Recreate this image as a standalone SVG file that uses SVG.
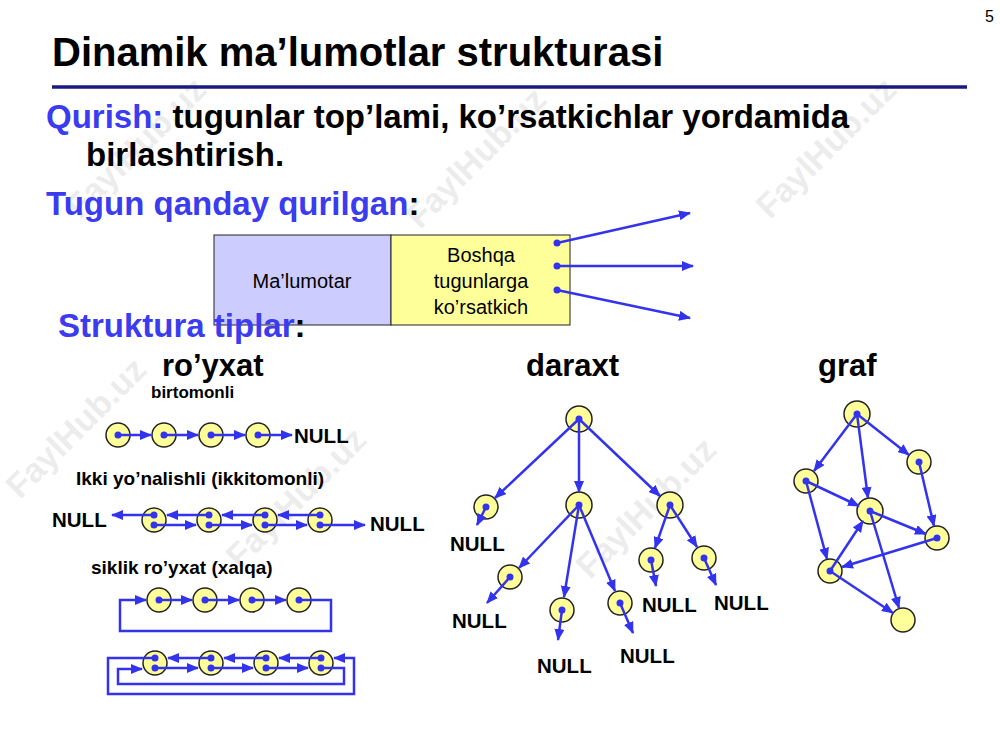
<svg xmlns="http://www.w3.org/2000/svg" width="1000" height="750" viewBox="0 0 1000 750">
<style>
text{font-family:"Liberation Sans",Arial,sans-serif;font-weight:bold}
.b{fill:#3b3bf0}.n{font-size:20.5px}.s{font-size:19px}.h{font-size:31px}.t{font-size:33px}
.nd{fill:#ffff99;stroke:#222;stroke-width:1.5}
.dt{fill:#3333ee}
.e{stroke:#3333ee;stroke-width:2.5;fill:none;marker-end:url(#a)}
.wm{font-size:34px;fill:#000;opacity:0.07}
</style>
<defs>
<marker id="a" markerUnits="userSpaceOnUse" markerWidth="12" markerHeight="10" refX="11" refY="5" orient="auto"><path d="M0,0L12,5L0,10z" fill="#3333ee"/></marker>
</defs>
<rect width="1000" height="750" fill="#fff"/>
<g id="watermarks">
<text class="wm" transform="translate(80,220) rotate(-45)">FaylHub.uz</text>
<text class="wm" transform="translate(420,230) rotate(-45)">FaylHub.uz</text>
<text class="wm" transform="translate(770,220) rotate(-45)">FaylHub.uz</text>
<text class="wm" transform="translate(20,500) rotate(-45)">FaylHub.uz</text>
<text class="wm" transform="translate(240,570) rotate(-45)">FaylHub.uz</text>
<text class="wm" transform="translate(590,580) rotate(-45)">FaylHub.uz</text>
</g>
<g id="header">
<text x="985" y="22" style="font-weight:normal;font-size:16px">5</text>
<text x="52" y="66" style="font-size:40px">Dinamik ma’lumotlar strukturasi</text>
<line x1="52" y1="87" x2="967" y2="87" stroke="#1a1a80" stroke-width="3.5"/>
<text x="46" y="128" class="t"><tspan class="b">Qurish:</tspan> tugunlar top’lami, ko’rsatkichlar yordamida</text>
<text x="86" y="166" class="t">birlashtirish.</text>
<text x="46" y="215" class="t"><tspan class="b">Tugun qanday qurilgan</tspan>:</text>
<text x="162" y="376" class="h">ro’yxat</text>
<text x="526" y="376" class="h">daraxt</text>
<text x="818" y="376" class="h">graf</text>
</g>
<g id="node-struct">
<rect x="214" y="235" width="177" height="90" fill="#ccccff" stroke="#222"/>
<rect x="391" y="235" width="179" height="90" fill="#ffff99" stroke="#222"/>
<g style="font-size:20px" text-anchor="middle">
<text x="302" y="288" style="font-weight:normal">Ma’lumotar</text>
<text x="481" y="262" style="font-weight:normal">Boshqa</text>
<text x="481" y="288" style="font-weight:normal">tugunlarga</text>
<text x="481" y="314" style="font-weight:normal">ko’rsatkich</text>
</g>
<circle class="dt" cx="557" cy="243" r="3.5"/><circle class="dt" cx="557" cy="266" r="3.5"/><circle class="dt" cx="557" cy="290" r="3.5"/>
</g>
<text x="58" y="337" class="t"><tspan class="b">Struktura tiplar</tspan>:</text>
<g id="lists">
<text x="151" y="398" class="s" style="font-size:17px">birtomonli</text>
<text x="76" y="485" class="s">Ikki yo’nalishli (ikkitomonli)</text>
<text x="91" y="574" class="s">siklik ro’yxat (xalqa)</text>
<text x="294" y="443" class="n">NULL</text>
<text x="52" y="527" class="n">NULL</text>
<text x="370" y="531" class="n">NULL</text>
<circle class="nd" cx="118" cy="435" r="12"/><circle class="nd" cx="164" cy="435" r="12"/><circle class="nd" cx="211" cy="435" r="12"/><circle class="nd" cx="258" cy="435" r="12"/>
<circle class="nd" cx="154" cy="520" r="12"/><circle class="nd" cx="209" cy="520" r="12"/><circle class="nd" cx="265" cy="520" r="12"/><circle class="nd" cx="320" cy="520" r="12"/>
<circle class="nd" cx="159" cy="600" r="12"/><circle class="nd" cx="205" cy="600" r="12"/><circle class="nd" cx="252" cy="600" r="12"/><circle class="nd" cx="299" cy="600" r="12"/>
<circle class="nd" cx="155" cy="663" r="12"/><circle class="nd" cx="211" cy="663" r="12"/><circle class="nd" cx="266" cy="663" r="12"/><circle class="nd" cx="321" cy="663" r="12"/>
</g>
<g id="tree">
<circle class="nd" cx="579" cy="419" r="13"/>
<circle class="nd" cx="486" cy="507" r="12"/><circle class="nd" cx="579" cy="505" r="13"/><circle class="nd" cx="670" cy="505" r="13"/>
<circle class="nd" cx="510" cy="577" r="12"/><circle class="nd" cx="562" cy="610" r="12"/><circle class="nd" cx="620" cy="603" r="12"/>
<circle class="nd" cx="651" cy="560" r="12"/><circle class="nd" cx="704" cy="558" r="12"/>
<text x="450" y="551" class="n">NULL</text><text x="452" y="628" class="n">NULL</text><text x="537" y="673" class="n">NULL</text>
<text x="620" y="663" class="n">NULL</text><text x="642" y="612" class="n">NULL</text><text x="714" y="610" class="n">NULL</text>
</g>
<g id="graph">
<circle class="nd" cx="857" cy="414" r="13"/><circle class="nd" cx="919" cy="462" r="12"/><circle class="nd" cx="806" cy="481" r="12"/>
<circle class="nd" cx="870" cy="511" r="13"/><circle class="nd" cx="937" cy="538" r="12"/><circle class="nd" cx="830" cy="571" r="12"/><circle class="nd" cx="903" cy="620" r="12"/>
</g>
<g id="connectors" class="e">
<path d="M557,243L690,213"/><path d="M557,266L693,266"/><path d="M557,290L690,318"/>
<path d="M118,435H151"/><path d="M164,435H198"/><path d="M211,435H245"/><path d="M258,435H292"/>
<path d="M154,515H112"/><path d="M209,515H167"/><path d="M265,515H222"/><path d="M320,515H278"/>
<path d="M154,525H196"/><path d="M209,525H252"/><path d="M265,525H307"/><path d="M320,525H365"/>
<path d="M159,600H192"/><path d="M205,600H239"/><path d="M252,600H286"/>
<path d="M299,600H331V631H120V600H146"/>
<path d="M211,658H168"/><path d="M266,658H224"/><path d="M321,658H279"/>
<path d="M155,668H198"/><path d="M211,668H253"/><path d="M266,668H308"/>
<path d="M155,658H108V694H354V658H334"/>
<path d="M321,668H344V684H118V669H142"/>
<path d="M579,419L495,498"/><path d="M579,419V492"/><path d="M579,419L660,496"/><path d="M486,507L477,525"/>
<path d="M579,505L519,568"/><path d="M579,505L564,597"/><path d="M579,505L615,591"/><path d="M670,505L655,548"/><path d="M670,505L697,547"/>
<path d="M510,577L487,603"/><path d="M562,610L558,640"/><path d="M620,603L633,633"/><path d="M651,560L656,586"/><path d="M704,558L716,585"/>
<path d="M857,414L814,471"/><path d="M857,414L868,498"/><path d="M857,414L909,455"/><path d="M919,462L934,526"/><path d="M806,481L859,506"/><path d="M806,481L827,559"/>
<path d="M870,511L926,534"/><path d="M870,511L899,608"/><path d="M937,538L842,567"/><path d="M830,571L863,521"/><path d="M830,571L893,613"/>
</g>
<g id="dots" class="dt">
<circle cx="118" cy="435" r="3.5"/><circle cx="164" cy="435" r="3.5"/><circle cx="211" cy="435" r="3.5"/><circle cx="258" cy="435" r="3.5"/>
<circle cx="154" cy="515" r="3.5"/><circle cx="209" cy="515" r="3.5"/><circle cx="265" cy="515" r="3.5"/><circle cx="320" cy="515" r="3.5"/>
<circle cx="154" cy="525" r="3.5"/><circle cx="209" cy="525" r="3.5"/><circle cx="265" cy="525" r="3.5"/><circle cx="320" cy="525" r="3.5"/>
<circle cx="159" cy="600" r="3.5"/><circle cx="205" cy="600" r="3.5"/><circle cx="252" cy="600" r="3.5"/><circle cx="299" cy="600" r="3.5"/>
<circle cx="155" cy="658" r="3.5"/><circle cx="211" cy="658" r="3.5"/><circle cx="266" cy="658" r="3.5"/><circle cx="321" cy="658" r="3.5"/>
<circle cx="155" cy="668" r="3.5"/><circle cx="211" cy="668" r="3.5"/><circle cx="266" cy="668" r="3.5"/><circle cx="321" cy="668" r="3.5"/>
<circle cx="579" cy="419" r="3.5"/><circle cx="486" cy="507" r="3.5"/><circle cx="579" cy="505" r="3.5"/><circle cx="670" cy="505" r="3.5"/>
<circle cx="510" cy="577" r="3.5"/><circle cx="562" cy="610" r="3.5"/><circle cx="620" cy="603" r="3.5"/><circle cx="651" cy="560" r="3.5"/><circle cx="704" cy="558" r="3.5"/>
<circle cx="857" cy="414" r="3.5"/><circle cx="919" cy="462" r="3.5"/><circle cx="806" cy="481" r="3.5"/><circle cx="870" cy="511" r="3.5"/><circle cx="937" cy="538" r="3.5"/><circle cx="830" cy="571" r="3.5"/>
</g>
</svg>
